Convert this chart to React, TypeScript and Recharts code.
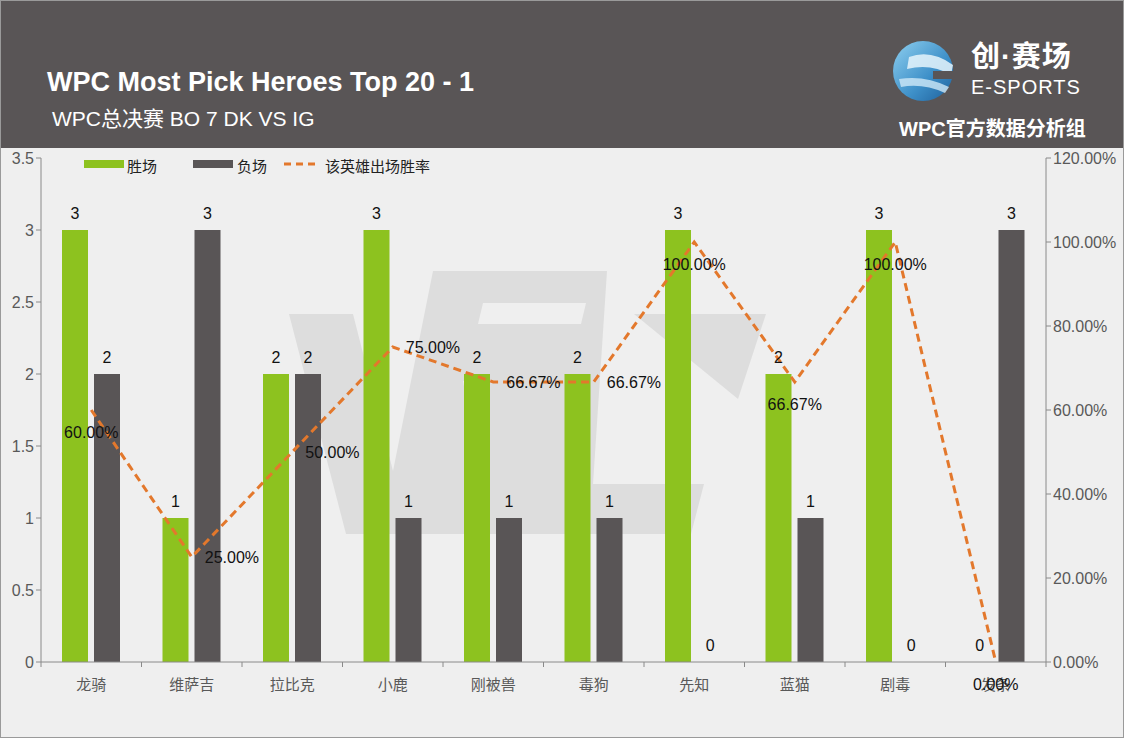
import { ComposedChart, Bar, Line, XAxis, YAxis, LabelList } from 'recharts';

const heroes = ['龙骑', '维萨吉', '拉比克', '小鹿', '刚被兽', '毒狗', '先知', '蓝猫', '剧毒', '发条'];
const wins = [3, 1, 2, 3, 2, 2, 3, 2, 3, 0];
const losses = [2, 3, 2, 1, 1, 1, 0, 1, 0, 3];
const winRate = [60, 25, 50, 75, 66.67, 66.67, 100, 66.67, 100, 0];
const leftTicks = [0, 0.5, 1, 1.5, 2, 2.5, 3, 3.5];
const rightTicks = [0, 20, 40, 60, 80, 100, 120];

const data = heroes.map((name, i) => ({ name, win: wins[i], loss: losses[i], rate: winRate[i] }));

const GREEN = '#8dc21f';
const DARK = '#595556';
const ORANGE = '#e3782c';
const BG = '#efefef';
const FONT = '"Liberation Sans", Arial, "Noto Sans CJK SC", sans-serif';

// which rate labels sit under the point instead of to its right
const RATE_BELOW = [0, 6, 7, 8, 9];

const PLOT_LEFT = 40;
const PLOT_RIGHT = 1045;
const PLOT_BOTTOM = 513;
const BAND = (PLOT_RIGHT - PLOT_LEFT) / heroes.length;
const BAR_SIZE = 26;
const BAR_GAP = 6;
const BAR_SHIFT = (BAR_SIZE + BAR_GAP) / 2;

const CategoryTick = (props: any) => {
  const { x, payload, index } = props;
  return (
    <g>
      <line x1={x - BAND / 2} x2={x - BAND / 2} y1={PLOT_BOTTOM} y2={PLOT_BOTTOM + 5} stroke="#8a8a8a" />
      {index === heroes.length - 1 && (
        <line x1={x + BAND / 2} x2={x + BAND / 2} y1={PLOT_BOTTOM} y2={PLOT_BOTTOM + 5} stroke="#8a8a8a" />
      )}
      <text x={x} y={PLOT_BOTTOM + 28} textAnchor="middle" fill="#595959" fontSize={15} fontFamily={FONT}>
        {payload.value}
      </text>
    </g>
  );
};

const RateLabel = (props: any) => {
  const { x, y, value, index } = props;
  const txt = Number(value).toFixed(2) + '%';
  if (RATE_BELOW.includes(index)) {
    return (
      <text x={x} y={y + 28} textAnchor="middle" fill="#111" fontSize={16} fontFamily={FONT}>
        {txt}
      </text>
    );
  }
  return (
    <text x={x + 13} y={y + 6} textAnchor="start" fill="#111" fontSize={16} fontFamily={FONT}>
      {txt}
    </text>
  );
};

// count above a bar; zero-height bars get theirs from the hidden lines below
const CountLabel = (props: any) => {
  const { x, y, width, value } = props;
  if (!value) return null;
  return (
    <text x={x + width / 2} y={y - 11} textAnchor="middle" fill="#111" fontSize={16} fontFamily={FONT}>
      {value}
    </text>
  );
};

const zeroLabel = (shift: number) => (props: any) => {
  const { x, y, value } = props;
  if (value !== 0) return null;
  return (
    <text x={x + shift} y={y - 11} textAnchor="middle" fill="#111" fontSize={16} fontFamily={FONT}>
      0
    </text>
  );
};

export default function App() {
  return (
    <div
      style={{
        position: 'absolute',
        top: 0,
        left: 0,
        width: 1122,
        height: 736,
        border: '1px solid #9a9a9a',
        background: BG,
        overflow: 'hidden',
        fontFamily: FONT,
      }}
    >
      {/* header */}
      <div style={{ position: 'absolute', top: 0, left: 0, width: 1122, height: 147, background: DARK }}>
        <div style={{ position: 'absolute', left: 46, top: 66, color: '#fff', fontSize: 27, fontWeight: 'bold' }}>
          WPC Most Pick Heroes Top 20 - 1
        </div>
        <div style={{ position: 'absolute', left: 51, top: 101, color: '#fff', fontSize: 21 }}>
          WPC总决赛 BO 7 DK VS IG
        </div>
        <svg style={{ position: 'absolute', left: 890, top: 34 }} width={70} height={70}>
          <defs>
            <linearGradient id="globe" x1="0" y1="0" x2="1" y2="1">
              <stop offset="0%" stopColor="#8fd0f0" />
              <stop offset="60%" stopColor="#3d8fc8" />
              <stop offset="100%" stopColor="#1e5f9a" />
            </linearGradient>
          </defs>
          <circle cx={32} cy={36} r={30} fill="url(#globe)" />
          <path d="M18 22 Q40 14 62 30 L60 40 Q40 28 16 34 Z" fill="#e6f4fb" opacity={0.85} />
          <path d="M8 44 Q34 40 58 52 L54 58 Q32 48 10 52 Z" fill="#cfe9f7" opacity={0.8} />
          <rect x={42} y={36} width={22} height={8} fill={DARK} />
        </svg>
        <div style={{ position: 'absolute', left: 970, top: 42, color: '#fff', fontSize: 29, lineHeight: 1, fontWeight: 'bold', letterSpacing: 1 }}>
          创·赛场
        </div>
        <div style={{ position: 'absolute', left: 970, top: 76, color: '#fff', fontSize: 20, lineHeight: 1, letterSpacing: 1 }}>
          E-SPORTS
        </div>
        <div style={{ position: 'absolute', left: 898, top: 112, color: '#fff', fontSize: 20, fontWeight: 'bold' }}>
          WPC官方数据分析组
        </div>
      </div>

      {/* faint WPC logo watermark behind the plot */}
      <svg style={{ position: 'absolute', left: 0, top: 0 }} width={1122} height={736}>
        <g fill="#dddddd">
          <polygon points="288,313 352,313 392,470 432,270 606,270 592,483 703,483 690,533 345,533" />
          <polygon points="633,313 765,313 737,398" />
        </g>
        <g fill={BG}>
          <polygon points="482,302 585,302 580,323 477,323" />
          <polygon points="462,380 485,380 476,457" />
        </g>
      </svg>

      {/* legend */}
      <div style={{ position: 'absolute', top: 155, left: 0, height: 16, width: 600, fontSize: 15, color: '#222' }}>
        <span style={{ position: 'absolute', left: 83, top: 4, width: 40, height: 8, background: GREEN }} />
        <span style={{ position: 'absolute', left: 126, top: -1 }}>胜场</span>
        <span style={{ position: 'absolute', left: 192, top: 4, width: 40, height: 8, background: DARK }} />
        <span style={{ position: 'absolute', left: 236, top: -1 }}>负场</span>
        <svg style={{ position: 'absolute', left: 283, top: 4 }} width={34} height={8}>
          <line x1={0} y1={4} x2={34} y2={4} stroke={ORANGE} strokeWidth={3} strokeDasharray="7 5" />
        </svg>
        <span style={{ position: 'absolute', left: 324, top: -1 }}>该英雄出场胜率</span>
      </div>

      <div style={{ position: 'absolute', left: 0, top: 148 }}>
        <ComposedChart
          width={1122}
          height={588}
          data={data}
          margin={{ top: 9, right: 0, left: 0, bottom: 0 }}
          barGap={BAR_GAP}
        >
          <XAxis
            dataKey="name"
            xAxisId="x"
            height={75}
            stroke="#8a8a8a"
            tickLine={false}
            tick={<CategoryTick />}
            interval={0}
          />
          <YAxis
            yAxisId="left"
            width={40}
            domain={[0, 3.5]}
            ticks={leftTicks}
            stroke="#8a8a8a"
            tickSize={5}
            tick={{ fill: '#595959', fontSize: 16, fontFamily: FONT }}
          />
          <YAxis
            yAxisId="right"
            orientation="right"
            width={77}
            domain={[0, 120]}
            ticks={rightTicks}
            stroke="#8a8a8a"
            tickSize={5}
            tickFormatter={(v: number) => v.toFixed(2) + '%'}
            tick={{ fill: '#595959', fontSize: 16, fontFamily: FONT }}
          />
          <Bar xAxisId="x" yAxisId="left" dataKey="win" name="胜场" fill={GREEN} barSize={BAR_SIZE} isAnimationActive={false}>
            <LabelList dataKey="win" content={<CountLabel />} />
          </Bar>
          <Bar xAxisId="x" yAxisId="left" dataKey="loss" name="负场" fill={DARK} barSize={BAR_SIZE} isAnimationActive={false}>
            <LabelList dataKey="loss" content={<CountLabel />} />
          </Bar>
          <Line xAxisId="x" yAxisId="left" dataKey="win" stroke="none" dot={false} activeDot={false} legendType="none" isAnimationActive={false}>
            <LabelList dataKey="win" content={zeroLabel(-BAR_SHIFT)} />
          </Line>
          <Line xAxisId="x" yAxisId="left" dataKey="loss" stroke="none" dot={false} activeDot={false} legendType="none" isAnimationActive={false}>
            <LabelList dataKey="loss" content={zeroLabel(BAR_SHIFT)} />
          </Line>
          <Line
            xAxisId="x"
            yAxisId="right"
            dataKey="rate"
            name="该英雄出场胜率"
            type="linear"
            stroke={ORANGE}
            strokeWidth={3}
            strokeDasharray="8 5"
            dot={false}
            activeDot={false}
            isAnimationActive={false}
          >
            <LabelList dataKey="rate" content={<RateLabel />} />
          </Line>
        </ComposedChart>
      </div>
    </div>
  );
}
